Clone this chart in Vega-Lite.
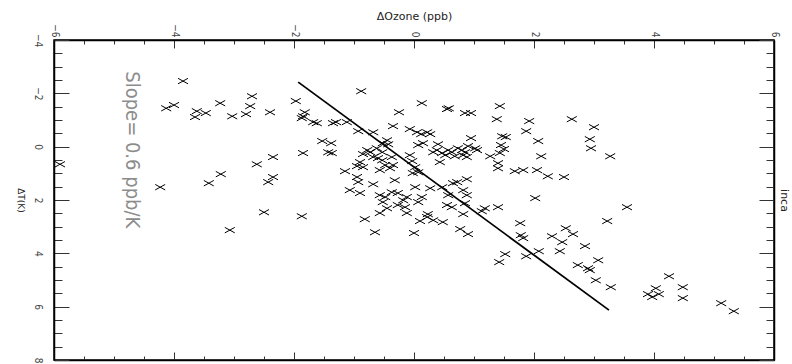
{
  "$schema": "https://vega.github.io/schema/vega-lite/v6.json",
  "width": 720,
  "height": 320,
  "autosize": {"type": "none"},
  "padding": {"left": 54, "top": 40, "right": 18, "bottom": 4},
  "background": "white",
  "config": {
    "view": {"stroke": "black", "strokeWidth": 1.5},
    "axis": {
      "domainColor": "black", "domainWidth": 1.5, "tickColor": "#333", "tickWidth": 1,
      "labelFont": "DejaVu Sans Condensed, Liberation Sans, sans-serif", "labelFontSize": 10, "labelColor": "#444",
      "titleFont": "DejaVu Sans", "titleFontWeight": "normal", "titleColor": "#222",
      "grid": false, "labelFlush": false, "labelOverlap": false
    }
  },
  "datasets": {
    "pts": [
      {"dOzone":-3.85,"dT":-2.46},{"dOzone":-2.70,"dT":-1.89},{"dOzone":-4.13,"dT":-1.44},{"dOzone":-4.00,"dT":-1.56},{"dOzone":-3.23,"dT":-1.63},{"dOzone":-3.62,"dT":-1.33},{"dOzone":-3.47,"dT":-1.26},{"dOzone":-3.65,"dT":-1.11},{"dOzone":-3.03,"dT":-1.14},{"dOzone":-2.80,"dT":-1.22},{"dOzone":-2.73,"dT":-1.52},{"dOzone":-2.40,"dT":-1.29},{"dOzone":-1.97,"dT":-1.71},{"dOzone":-1.82,"dT":-1.29},{"dOzone":-1.85,"dT":-1.14},{"dOzone":-1.87,"dT":-1.07},{"dOzone":-1.68,"dT":-0.92},{"dOzone":-1.62,"dT":-0.88},{"dOzone":-1.35,"dT":-0.88},{"dOzone":-1.30,"dT":-0.92},{"dOzone":-1.12,"dT":-0.92},{"dOzone":-0.88,"dT":-2.08},{"dOzone":-0.93,"dT":-0.58},{"dOzone":-0.68,"dT":-0.54},{"dOzone":-1.53,"dT":-0.21},{"dOzone":-1.38,"dT":-0.13},{"dOzone":-1.43,"dT":0.21},{"dOzone":-1.37,"dT":0.24},{"dOzone":-1.85,"dT":0.24},{"dOzone":-2.35,"dT":0.39},{"dOzone":-2.62,"dT":0.66},{"dOzone":-2.35,"dT":1.14},{"dOzone":-2.43,"dT":1.33},{"dOzone":-3.22,"dT":1.03},{"dOzone":-3.42,"dT":1.37},{"dOzone":-4.23,"dT":1.52},{"dOzone":-5.90,"dT":0.66},{"dOzone":-2.50,"dT":2.46},{"dOzone":-1.87,"dT":2.61},{"dOzone":-3.07,"dT":3.13},
      {"dOzone":-0.52,"dT":-0.13},{"dOzone":-0.45,"dT":-0.24},{"dOzone":-0.78,"dT":0.13},{"dOzone":-0.62,"dT":0.06},{"dOzone":-0.53,"dT":0.21},{"dOzone":-0.85,"dT":0.28},{"dOzone":-0.73,"dT":0.21},{"dOzone":-0.90,"dT":0.58},{"dOzone":-0.95,"dT":0.73},{"dOzone":-0.85,"dT":0.77},{"dOzone":-0.53,"dT":0.51},{"dOzone":-0.48,"dT":0.69},{"dOzone":-0.57,"dT":0.88},{"dOzone":-1.15,"dT":0.92},{"dOzone":-0.95,"dT":1.14},{"dOzone":-0.93,"dT":1.33},{"dOzone":-1.07,"dT":1.63},{"dOzone":-0.90,"dT":1.74},{"dOzone":-0.68,"dT":1.41},{"dOzone":-0.57,"dT":1.82},{"dOzone":-0.48,"dT":1.89},{"dOzone":-0.82,"dT":2.72},{"dOzone":-0.57,"dT":2.49},{"dOzone":-0.52,"dT":2.08},{"dOzone":-0.45,"dT":2.31},{"dOzone":-0.65,"dT":3.21},{"dOzone":0.13,"dT":-1.63},{"dOzone":-0.25,"dT":-1.29},{"dOzone":0.55,"dT":-1.41},{"dOzone":0.58,"dT":-1.44},{"dOzone":0.85,"dT":-1.26},{"dOzone":0.95,"dT":-1.26},{"dOzone":1.43,"dT":-1.52},{"dOzone":1.38,"dT":-1.03},{"dOzone":-0.35,"dT":-0.77},{"dOzone":-0.07,"dT":-0.66},{"dOzone":0.05,"dT":-0.54},{"dOzone":0.12,"dT":-0.47},{"dOzone":0.22,"dT":-0.54},{"dOzone":0.27,"dT":-0.47},{"dOzone":0.15,"dT":-0.13},{"dOzone":0.07,"dT":-0.06},{"dOzone":-0.43,"dT":-0.09},{"dOzone":0.40,"dT":-0.09},{"dOzone":0.95,"dT":-0.32},{"dOzone":0.32,"dT":0.21},{"dOzone":0.38,"dT":0.13},{"dOzone":0.47,"dT":0.24},{"dOzone":0.57,"dT":0.13},{"dOzone":0.63,"dT":0.21},{"dOzone":0.73,"dT":0.06},{"dOzone":0.80,"dT":0.13},{"dOzone":0.85,"dT":0.21},{"dOzone":0.82,"dT":0.32},{"dOzone":0.88,"dT":0.39},{"dOzone":0.68,"dT":0.36},{"dOzone":0.52,"dT":0.32},{"dOzone":1.05,"dT":0.13},{"dOzone":0.90,"dT":-0.02},{"dOzone":1.27,"dT":0.36},{"dOzone":1.43,"dT":0.24},{"dOzone":1.50,"dT":0.09},{"dOzone":1.45,"dT":-0.06},{"dOzone":1.47,"dT":-0.39},{"dOzone":1.53,"dT":-0.36},{"dOzone":1.40,"dT":0.62},{"dOzone":1.40,"dT":0.81},{"dOzone":1.68,"dT":0.92},{"dOzone":1.82,"dT":0.88},{"dOzone":0.43,"dT":0.58},{"dOzone":-0.07,"dT":0.32},{"dOzone":-0.03,"dT":0.54},{"dOzone":-0.37,"dT":0.39},{"dOzone":-0.40,"dT":0.81},{"dOzone":-0.35,"dT":0.69},{"dOzone":0.02,"dT":0.77},{"dOzone":0.07,"dT":0.96},{"dOzone":-0.02,"dT":0.99},{"dOzone":-0.32,"dT":1.26},{"dOzone":0.02,"dT":1.52},{"dOzone":0.27,"dT":1.56},{"dOzone":0.47,"dT":1.52},{"dOzone":0.65,"dT":1.37},{"dOzone":0.72,"dT":1.33},{"dOzone":0.88,"dT":1.22},{"dOzone":0.82,"dT":1.63},{"dOzone":0.88,"dT":1.82},{"dOzone":-0.37,"dT":1.71},{"dOzone":-0.27,"dT":1.74},{"dOzone":-0.12,"dT":1.89},{"dOzone":0.13,"dT":1.89},{"dOzone":0.57,"dT":1.82},{"dOzone":0.85,"dT":2.12},{"dOzone":0.55,"dT":2.19},{"dOzone":-0.27,"dT":2.19},{"dOzone":-0.15,"dT":2.27},{"dOzone":1.18,"dT":2.31},{"dOzone":1.40,"dT":2.27},{"dOzone":0.07,"dT":2.08},{"dOzone":0.63,"dT":2.27},{"dOzone":0.23,"dT":2.53},{"dOzone":0.22,"dT":2.64},{"dOzone":0.10,"dT":2.79},{"dOzone":0.82,"dT":2.53},{"dOzone":0.48,"dT":2.83},{"dOzone":1.13,"dT":2.42},{"dOzone":0.77,"dT":3.09},{"dOzone":0.90,"dT":3.28},{"dOzone":0.00,"dT":3.24},{"dOzone":1.02,"dT":0.06},{"dOzone":-0.18,"dT":2.01},{"dOzone":0.32,"dT":2.76},{"dOzone":-0.12,"dT":2.49},
      {"dOzone":1.92,"dT":-0.96},{"dOzone":2.63,"dT":-1.03},{"dOzone":3.00,"dT":-0.73},{"dOzone":1.87,"dT":-0.58},{"dOzone":2.07,"dT":-0.21},{"dOzone":2.93,"dT":-0.28},{"dOzone":2.95,"dT":0.06},{"dOzone":2.12,"dT":0.36},{"dOzone":3.27,"dT":0.36},{"dOzone":2.05,"dT":0.88},{"dOzone":2.23,"dT":1.11},{"dOzone":2.50,"dT":1.14},{"dOzone":2.02,"dT":1.93},{"dOzone":3.55,"dT":2.27},{"dOzone":3.22,"dT":2.79},{"dOzone":1.77,"dT":2.87},{"dOzone":2.53,"dT":3.06},{"dOzone":2.65,"dT":3.28},{"dOzone":2.30,"dT":3.36},{"dOzone":2.47,"dT":3.58},{"dOzone":1.78,"dT":3.32},{"dOzone":1.82,"dT":3.43},{"dOzone":2.85,"dT":3.73},{"dOzone":2.08,"dT":3.92},{"dOzone":2.43,"dT":3.92},{"dOzone":1.87,"dT":4.11},{"dOzone":1.52,"dT":4.03},{"dOzone":1.42,"dT":4.33},{"dOzone":2.73,"dT":4.44},{"dOzone":2.90,"dT":4.56},{"dOzone":2.93,"dT":4.63},{"dOzone":3.07,"dT":4.26},{"dOzone":3.03,"dT":5.01},{"dOzone":3.28,"dT":5.27},{"dOzone":4.25,"dT":4.86},{"dOzone":4.03,"dT":5.31},{"dOzone":3.90,"dT":5.53},{"dOzone":3.97,"dT":5.64},{"dOzone":4.08,"dT":5.53},{"dOzone":4.48,"dT":5.27},{"dOzone":4.48,"dT":5.68},{"dOzone":5.12,"dT":5.87},{"dOzone":5.33,"dT":6.17},{"dOzone":-0.60,"dT":0.43},{"dOzone":-0.68,"dT":0.39}
    ],
    "fit": [{"dOzone": -1.93, "dT": -2.42}, {"dOzone": 3.25, "dT": 6.13}],
    "note": [{"dOzone": -4.8, "dT": -2.83, "label": "Slope= 0.6 ppb/K"}]
  },
  "layer": [
    {
      "data": {"name": "pts"},
      "mark": {"type": "point", "shape": "M-1,-0.55L1,0.55M-1,0.55L1,-0.55", "filled": false, "stroke": "black", "strokeWidth": 1, "size": 100, "opacity": 1},
      "encoding": {
        "x": {"field": "dOzone", "type": "quantitative",
          "scale": {"domain": [-6, 6], "nice": false, "zero": false},
          "axis": {"orient": "top", "values": [-6,-5.5,-5,-4.5,-4,-3.5,-3,-2.5,-2,-1.5,-1,-0.5,0,0.5,1,1.5,2,2.5,3,3.5,4,4.5,5,5.5,6],
            "labelExpr": "abs(datum.value % 2) < 0.01 ? format(datum.value, 'd') : ''",
            "labelAngle": 90, "labelPadding": 11,
            "tickSize": {"condition": {"test": "abs(datum.value % 2) < 0.01", "value": -8}, "value": -4},
            "title": "ΔOzone (ppb)", "titleFontSize": 11, "titlePadding": 2}},
        "y": {"field": "dT", "type": "quantitative",
          "scale": {"domain": [-4, 8], "nice": false, "zero": false, "reverse": true},
          "axis": {"orient": "left", "values": [-4,-3.5,-3,-2.5,-2,-1.5,-1,-0.5,0,0.5,1,1.5,2,2.5,3,3.5,4,4.5,5,5.5,6,6.5,7,7.5,8],
            "labelExpr": "abs(datum.value % 2) < 0.01 ? format(datum.value, 'd') : ''",
            "labelAngle": 90, "labelPadding": 27,
            "tickSize": {"condition": {"test": "abs(datum.value % 2) < 0.01", "value": -15}, "value": -8},
            "title": "ΔT(K)", "titleFontSize": 9, "titleAngle": 90, "titlePadding": 10}}
      }
    },
    {
      "data": {"name": "fit"},
      "mark": {"type": "line", "color": "black", "strokeWidth": 1.8},
      "encoding": {
        "x": {"field": "dOzone", "type": "quantitative",
          "scale": {"domain": [-6, 6], "nice": false, "zero": false},
          "axis": {"orient": "bottom", "values": [-6,-5.5,-5,-4.5,-4,-3.5,-3,-2.5,-2,-1.5,-1,-0.5,0,0.5,1,1.5,2,2.5,3,3.5,4,4.5,5,5.5,6],
            "labels": false, "title": null,
            "tickSize": {"condition": {"test": "abs(datum.value % 2) < 0.01", "value": -8}, "value": -4}}},
        "y": {"field": "dT", "type": "quantitative",
          "scale": {"domain": [-4, 8], "nice": false, "zero": false, "reverse": true},
          "axis": {"orient": "right", "values": [-4,-3.5,-3,-2.5,-2,-1.5,-1,-0.5,0,0.5,1,1.5,2,2.5,3,3.5,4,4.5,5,5.5,6,6.5,7,7.5,8],
            "labels": false, "title": "inca", "titleFontSize": 11, "titleAngle": 90, "titlePadding": 4,
            "tickSize": {"condition": {"test": "abs(datum.value % 2) < 0.01", "value": -15}, "value": -8}}}
      }
    },
    {
      "data": {"name": "note"},
      "mark": {"type": "text", "angle": 90, "align": "left", "baseline": "alphabetic", "font": "DejaVu Sans Condensed, Liberation Sans, sans-serif", "fontSize": 20, "color": "#8c8c8c"},
      "encoding": {
        "x": {"field": "dOzone", "type": "quantitative", "axis": null},
        "y": {"field": "dT", "type": "quantitative", "axis": null},
        "text": {"field": "label"}
      }
    }
  ],
  "resolve": {"axis": {"x": "independent", "y": "independent"}}
}
